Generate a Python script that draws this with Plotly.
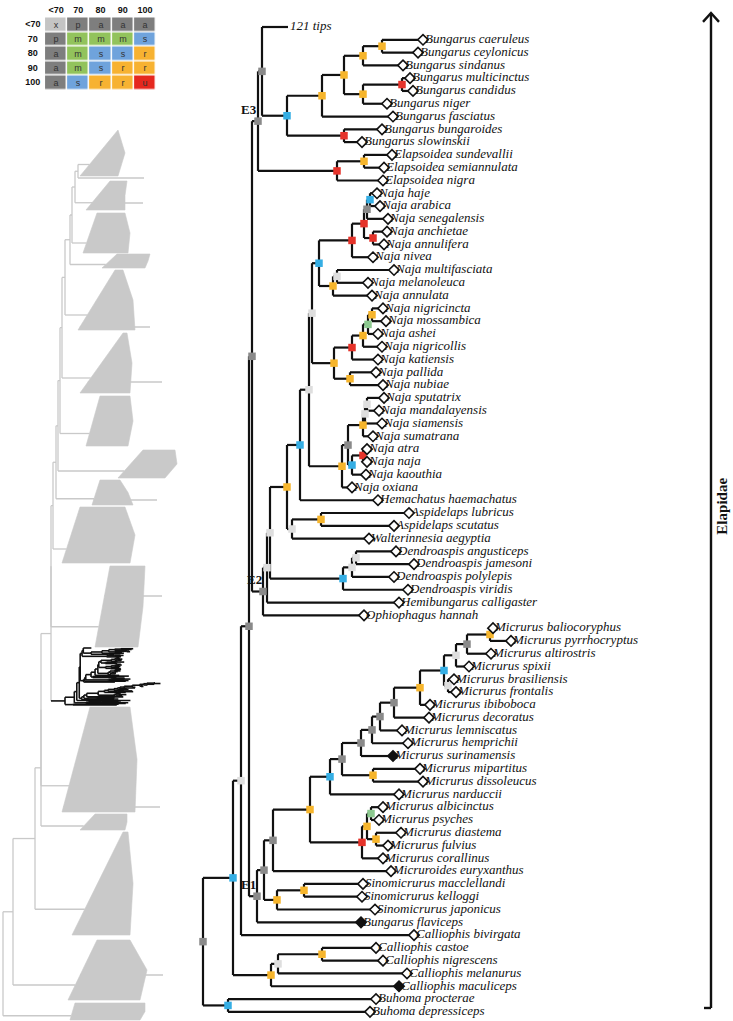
import plotly.graph_objects as go

W, H = 733, 1021
Y0, DY = 27.0, 12.79          # first tip row and row spacing (px)
ROOT = 203                     # pixel column of the root node

# ---------------- main tree: tips ----------------
tip_names = [
    "121 tips",
    "Bungarus caeruleus", "Bungarus ceylonicus", "Bungarus sindanus",
    "Bungarus multicinctus", "Bungarus candidus", "Bungarus niger",
    "Bungarus fasciatus", "Bungarus bungaroides", "Bungarus slowinskii",
    "Elapsoidea sundevallii", "Elapsoidea semiannulata", "Elapsoidea nigra",
    "Naja haje", "Naja arabica", "Naja senegalensis", "Naja anchietae",
    "Naja annulifera", "Naja nivea", "Naja multifasciata", "Naja melanoleuca",
    "Naja annulata", "Naja nigricincta", "Naja mossambica", "Naja ashei",
    "Naja nigricollis", "Naja katiensis", "Naja pallida", "Naja nubiae",
    "Naja sputatrix", "Naja mandalayensis", "Naja siamensis", "Naja sumatrana",
    "Naja atra", "Naja naja", "Naja kaouthia", "Naja oxiana",
    "Hemachatus haemachatus", "Aspidelaps lubricus", "Aspidelaps scutatus",
    "Walterinnesia aegyptia", "Dendroaspis angusticeps", "Dendroaspis jamesoni",
    "Dendroaspis polylepis", "Dendroaspis viridis", "Hemibungarus calligaster",
    "Ophiophagus hannah",
    "Micrurus baliocoryphus", "Micrurus pyrrhocryptus", "Micrurus altirostris",
    "Micrurus spixii", "Micrurus brasiliensis", "Micrurus frontalis",
    "Micrurus ibiboboca", "Micrurus decoratus", "Micrurus lemniscatus",
    "Micrurus hemprichii", "Micrurus surinamensis", "Micrurus mipartitus",
    "Micrurus dissoleucus", "Micrurus narduccii", "Micrurus albicinctus",
    "Micrurus psyches", "Micrurus diastema", "Micrurus fulvius",
    "Micrurus corallinus", "Micruroides euryxanthus",
    "Sinomicrurus macclellandi", "Sinomicrurus kelloggi", "Sinomicrurus japonicus",
    "Bungarus flaviceps", "Calliophis bivirgata", "Calliophis castoe",
    "Calliophis nigrescens", "Calliophis melanurus", "Calliophis maculiceps",
    "Buhoma procterae", "Buhoma depressiceps",
]
tip_depth = [
    85,
    220, 215, 200, 207, 210, 184, 190, 179, 159,
    189, 181, 180,
    174, 177, 185, 184, 181, 170, 191, 165, 169, 180, 183, 175, 179, 175,
    173, 180, 181, 176, 179, 170, 164, 164, 163, 149,
    175, 206, 191, 166, 193, 211, 191, 205, 196, 161,
    290, 308, 288, 266, 251, 253, 227, 226, 199, 205, 190, 217, 220, 196,
    180, 176, 198, 185, 180, 188,
    160, 159, 172, 158, 211, 173, 180, 204, 196, 173, 167,
]
filled_tips = ["Micrurus surinamensis", "Bungarus flaviceps", "Calliophis maculiceps"]
collapsed_tips = ["121 tips"]

# ---------------- main tree: internal nodes ----------------
node_names = ["b1", "b2", "b3", "b4", "b5", "b6", "b7", "b8", "n121", "el1", "el2", "E3",
              "n1", "n2", "n3", "n4", "n5", "n6", "n7", "n8", "s1", "s2", "s3", "s4", "s5", "s6",
              "n9", "a1", "a2", "a3", "a4", "a5", "a6", "a7", "n10", "n11", "as1", "as2", "n12",
              "d1", "d2", "d3", "N2", "N1", "E2", "E32",
              "m1", "m2", "m3", "m4", "m5", "m6", "m7", "m8", "m9", "m10", "m11", "m12", "m13",
              "m14", "m15", "m16", "m17", "D", "C1", "si1", "si2", "B1", "E1", "P", "Q",
              "ca1", "ca2", "ca3", "EL", "bu", "root"]
node_depth = [179, 160, 199, 160, 141, 119, 141, 84, 59, 161, 134, 55,
              167, 164, 170, 161, 149, 134, 130, 116, 169, 165, 160, 149, 147, 131,
              109, 164, 162, 160, 160, 149, 145, 139, 106, 97, 118, 89, 84,
              153, 149, 140, 67, 64, 60, 49,
              287, 264, 253, 245, 241, 217, 191, 177, 169, 158, 170, 139, 127,
              168, 173, 164, 159, 107, 70, 101, 74, 61, 54, 46, 38,
              119, 75, 68, 30, 25, 0]
node_support = ["Y", "Y", "R", "Y", "Y", "Y", "R", "C", "G", "Y", "R", "G",
                "C", "G", "R", "R", "R", "L", "Y", "C", "Y", "N", "Y", "R", "Y", "Y",
                "L", "L", "L", "Y", "R", "C", "G", "Y", "L", "C", "Y", "L", "Y",
                "L", "L", "C", "L", "L", "G", "G",
                "Y", "G", "L", "L", "C", "Y", "G", "G", "G", "G", "Y", "G", "C",
                "N", "Y", "Y", "R", "Y", "G", "Y", "Y", "G", "G", "G", "L",
                "Y", "L", "Y", "C", "C", "G"]
node_children = [[1, 2], ["b1", 3], [4, 5], ["b3", 6], ["b2", "b4"], ["b5", 7], [8, 9],
                 ["b6", "b7"], [0, "b8"], [10, 11], ["el1", 12], ["n121", "el2"],
                 [13, 14], ["n1", 15], [16, 17], ["n2", "n3"], ["n4", 18], [19, 20], ["n6", 21],
                 ["n5", "n7"], [22, 23], ["s1", 24], ["s2", 25], ["s3", 26], [27, 28],
                 ["s4", "s5"], ["n8", "s6"], [29, 30], ["a1", 31], ["a2", 32], [33, 34],
                 ["a4", 35], ["a3", "a5"], ["a6", 36], ["n9", "a7"], ["n10", 37], [38, 39],
                 ["as1", 40], ["n11", "as2"], [41, 42], ["d1", 43], ["d2", 44], ["n12", "d3"],
                 ["N2", 45], ["N1", 46], ["E3", "E2"],
                 [47, 48], ["m1", 49], ["m2", 50], [51, 52], ["m3", "m4"], ["m5", 53],
                 ["m6", 54], ["m7", 55], ["m8", 56], ["m9", 57], [58, 59], ["m10", "m11"],
                 ["m12", 60], [61, 62], [63, 64], ["m14", "m15"], ["m16", 65], ["m13", "m17"],
                 ["D", 66], [67, 68], ["si1", 69], ["C1", "si2"], ["B1", 70], ["E32", "E1"],
                 ["P", 71], [72, 73], ["ca1", 74], ["ca2", 75], ["Q", "ca3"], [76, 77],
                 ["EL", "bu"]]
clade_labels = ["E3", "E2", "E1"]
group_label = "Elapidae"

support_colors = {"G": "#8a8a8a", "L": "#dedede", "Y": "#f6b52c", "C": "#35aee4",
                  "R": "#e5332a", "N": "#8cc98f"}

# ---------------- support legend table ----------------
tbl_cols = ["<70", "70", "80", "90", "100"]
tbl_rows = ["<70", "70", "80", "90", "100"]
tbl_codes = [["x", "p", "a", "a", "a"],
             ["p", "m", "m", "m", "s"],
             ["a", "m", "s", "s", "r"],
             ["a", "m", "s", "r", "r"],
             ["a", "s", "r", "r", "u"]]
code_value = {"x": 0, "p": 1, "a": 1, "m": 2, "s": 3, "r": 4, "u": 5}
value_colors = ["#c4c4c4", "#7e7e7e", "#92c35c", "#6fa3dc", "#f7b231", "#e5281e"]

# ---------------- overview (grey) tree: collapsed clades ----------------
gray_top = [130, 178, 181, 213, 254, 270, 333, 396, 450, 480, 507, 566, 649, 707, 814, 832, 940, 1003]
gray_bottom = [176, 178, 210, 253, 268, 330, 393, 446, 478, 505, 563, 647, 705, 812, 830, 935, 1000, 1020]
gray_crown = [80, 80, 86, 83, 102, 78, 80, 86, 118, 92, 62, 95, 65, 62, 80, 72, 68, 70]
gray_topleft = [118, 144, 110, 97, 117, 115, 123, 100, 143, 100, 80, 110, 82, 90, 95, 123, 97, 75]
gray_right_top = [118, 144, 127, 125, 150, 123, 127, 130, 175, 120, 125, 145, 128, 130, 127, 128, 130, 145]
gray_right_mid = [125, 144, 125, 130, 148, 133, 132, 133, 177, 128, 135, 143, 128, 137, 127, 133, 147, 145]
gray_right_bot = [118, 144, 125, 128, 145, 135, 130, 128, 165, 133, 130, 138, 128, 135, 125, 130, 140, 140]
gray_spine = [78, 78, 75, 72, 70, 65, 62, 60, 58, 56, 53, 51, 51, 41, 41, 35, 13, 3]
gray_focal = 12                     # Elapidae: drawn as a miniature of the main tree
gray_long_y = [203, 327, 382, 500, 596, 807, 975]
gray_long_x = [143, 150, 162, 157, 162, 160, 163]
mini_x0, mini_xscale, mini_y0, mini_dy = 65, 0.31, 648, 0.74

# =====================================================================
node_index = {n: i for i, n in enumerate(node_names)}


def ypos(c):
    if isinstance(c, int):
        return float(c)
    ch = node_children[node_index[c]]
    return (ypos(ch[0]) + ypos(ch[-1])) / 2.0


def xpos(c):
    return tip_depth[c] if isinstance(c, int) else node_depth[node_index[c]]


bx, by = [], []
for i, name in enumerate(node_names):
    d = node_depth[i]
    ch = node_children[i]
    ys = [ypos(c) for c in ch]
    bx += [d, d, None]
    by += [min(ys), max(ys), None]
    for c, yc in zip(ch, ys):
        bx += [d, xpos(c), None]
        by += [yc, yc, None]

fig = go.Figure()

# ---- grey overview tree (pixel axes x2/y2) ----
GREY = "#c9c9c9"


def stem_y(k):
    if k == gray_focal:
        return mini_y0 + ypos("root") * mini_dy
    return gray_top[k] + 0.75 * (gray_bottom[k] - gray_top[k])


def edge_x(k, y):
    if k == gray_focal:
        return mini_x0
    if gray_bottom[k] == gray_top[k]:
        return gray_crown[k]
    f = (gray_bottom[k] - y) / (gray_bottom[k] - gray_top[k])
    return gray_crown[k] + (gray_topleft[k] - gray_crown[k]) * f


for k in range(len(gray_top)):
    if k == gray_focal:
        continue
    if gray_top[k] == gray_bottom[k]:
        fig.add_trace(go.Scatter(x=[gray_crown[k], gray_right_mid[k]], y=[gray_top[k]] * 2,
                                 mode="lines", line=dict(color=GREY, width=1.3),
                                 xaxis="x2", yaxis="y2", hoverinfo="skip"))
        continue
    mid = (gray_top[k] + gray_bottom[k]) / 2
    px = [gray_crown[k], gray_topleft[k], gray_right_top[k], gray_right_mid[k],
          gray_right_bot[k], gray_crown[k]]
    py = [gray_bottom[k], gray_top[k], gray_top[k], mid, gray_bottom[k], gray_bottom[k]]
    fig.add_trace(go.Scatter(x=px, y=py, mode="lines", fill="toself", fillcolor=GREY,
                             line=dict(color=GREY, width=0.6),
                             xaxis="x2", yaxis="y2", hoverinfo="skip"))

for yy, xe in zip(gray_long_y, gray_long_x):
    k = [i for i in range(len(gray_top)) if gray_top[i] <= yy <= gray_bottom[i]]
    k = k[0] if k else 0
    fig.add_trace(go.Scatter(x=[edge_x(k, yy), xe], y=[yy, yy], mode="lines",
                             line=dict(color=GREY, width=1.3), xaxis="x2", yaxis="y2",
                             hoverinfo="skip"))

lx, ly, fx, fy = [], [], [], []
cur_y = stem_y(0)
cur_x = edge_x(0, cur_y)
for k in range(1, len(gray_top)):
    s = gray_spine[k]
    sy = stem_y(k)
    ex = edge_x(k, sy)
    lx += [s, s, None, s, cur_x, None]
    ly += [cur_y, sy, None, cur_y, cur_y, None]
    if k == gray_focal:
        fx += [s, ex, None]
        fy += [sy, sy, None]
    else:
        lx += [s, ex, None]
        ly += [sy, sy, None]
    cur_y = (cur_y + sy) / 2.0
    cur_x = s
fig.add_trace(go.Scatter(x=lx, y=ly, mode="lines", line=dict(color=GREY, width=1.3),
                         xaxis="x2", yaxis="y2", hoverinfo="skip"))

# Elapidae miniature (same tree, scaled into the overview)
mx = [None if v is None else mini_x0 + v * mini_xscale for v in bx] + fx
my = [None if v is None else mini_y0 + v * mini_dy for v in by] + fy
fig.add_trace(go.Scatter(x=mx, y=my, mode="lines", line=dict(color="#111111", width=1.6),
                         xaxis="x2", yaxis="y2", hoverinfo="skip"))

# ---- main tree ----
fig.add_trace(go.Scatter(x=bx, y=by, mode="lines", line=dict(color="#111111", width=2.2),
                         hoverinfo="skip"))

fig.add_trace(go.Scatter(
    x=node_depth, y=[ypos(n) for n in node_names], mode="markers",
    marker=dict(symbol="square", size=7.5, color=[support_colors[s] for s in node_support],
                line=dict(width=0)), hoverinfo="skip"))

tips_idx = [i for i, n in enumerate(tip_names) if n not in collapsed_tips]
fig.add_trace(go.Scatter(
    x=[tip_depth[i] for i in tips_idx], y=[float(i) for i in tips_idx], mode="markers",
    marker=dict(symbol="diamond", size=8,
                color=["#111111" if tip_names[i] in filled_tips else "white" for i in tips_idx],
                line=dict(color="#111111", width=1.6)),
    hoverinfo="skip"))

fig.add_trace(go.Scatter(
    x=[d + 2 for d in tip_depth], y=list(range(len(tip_names))), mode="text",
    text=["<i>" + n + "</i>" for n in tip_names], textposition="middle right",
    textfont=dict(family="Liberation Serif", size=13, color="#111111"),
    cliponaxis=False, hoverinfo="skip"))

for lab in clade_labels:
    fig.add_annotation(x=xpos(lab), y=ypos(lab), text="<b>" + lab + "</b>", showarrow=False,
                       xshift=-9, yshift=12,
                       font=dict(family="Liberation Serif", size=13, color="#111111"))

# Elapidae arrow
AX = 508
arrow_top, arrow_bot = -1.1, 76.7
fig.add_trace(go.Scatter(
    x=[AX, AX, None, AX - 8, AX, AX + 8, None, AX - 7, AX],
    y=[arrow_bot, arrow_top, None, arrow_top + 0.7, arrow_top, arrow_top + 0.7, None,
       arrow_bot, arrow_bot],
    mode="lines", line=dict(color="#111111", width=2.4), hoverinfo="skip"))
fig.add_annotation(x=AX + 11, y=(arrow_top + arrow_bot) / 2 - 0.3, text="<b>" + group_label + "</b>",
                   textangle=-90, showarrow=False,
                   font=dict(family="Liberation Serif", size=15, color="#111111"))

# ---- legend table as a heatmap (axes x3/y3) ----
nv = len(value_colors)
cscale = []
for v, c in enumerate(value_colors):
    cscale += [[v / nv, c], [(v + 1) / nv, c]]
zmat = [[code_value[c] for c in row] for row in tbl_codes]
fig.add_trace(go.Heatmap(
    z=zmat, x=list(range(len(tbl_cols))), y=list(range(len(tbl_rows))),
    text=tbl_codes, texttemplate="%{text}",
    textfont=dict(family="Liberation Sans", size=9, color="#333333"),
    colorscale=cscale, zmin=-0.5, zmax=nv - 0.5, showscale=False,
    xgap=1.5, ygap=1.5, xaxis="x3", yaxis="y3", hoverinfo="skip"))
fig.add_trace(go.Scatter(
    x=list(range(len(tbl_cols))), y=[-1] * len(tbl_cols), mode="text",
    text=["<b>" + c.replace("<", "&lt;") + "</b>" for c in tbl_cols],
    textfont=dict(family="Liberation Sans", size=9, color="#111111"),
    xaxis="x3", yaxis="y3", cliponaxis=False, hoverinfo="skip"))
fig.add_trace(go.Scatter(
    x=[-1.05] * len(tbl_rows), y=list(range(len(tbl_rows))), mode="text",
    text=["<b>" + r.replace("<", "&lt;") + "</b>" for r in tbl_rows],
    textfont=dict(family="Liberation Sans", size=9, color="#111111"),
    xaxis="x3", yaxis="y3", cliponaxis=False, hoverinfo="skip"))

fig.update_layout(
    width=W, height=H, margin=dict(l=0, r=0, t=0, b=0),
    paper_bgcolor="white", plot_bgcolor="white", showlegend=False,
    xaxis=dict(range=[-ROOT, W - ROOT], visible=False, fixedrange=True),
    yaxis=dict(range=[(H - Y0) / DY, -Y0 / DY], visible=False, fixedrange=True),
    xaxis2=dict(range=[0, W], visible=False, overlaying="x", anchor="y2"),
    yaxis2=dict(range=[H, 0], visible=False, overlaying="y", anchor="x2"),
    xaxis3=dict(domain=[20 / W, 156 / W], range=[-1.63, 4.5], visible=False, anchor="y3"),
    yaxis3=dict(domain=[1 - 90 / H, 1 - 3 / H], range=[4.5, -1.5], visible=False, anchor="x3"),
)

fig.write_html("out.html", config={"displayModeBar": False},
               post_script="document.body.style.margin='0px';")
